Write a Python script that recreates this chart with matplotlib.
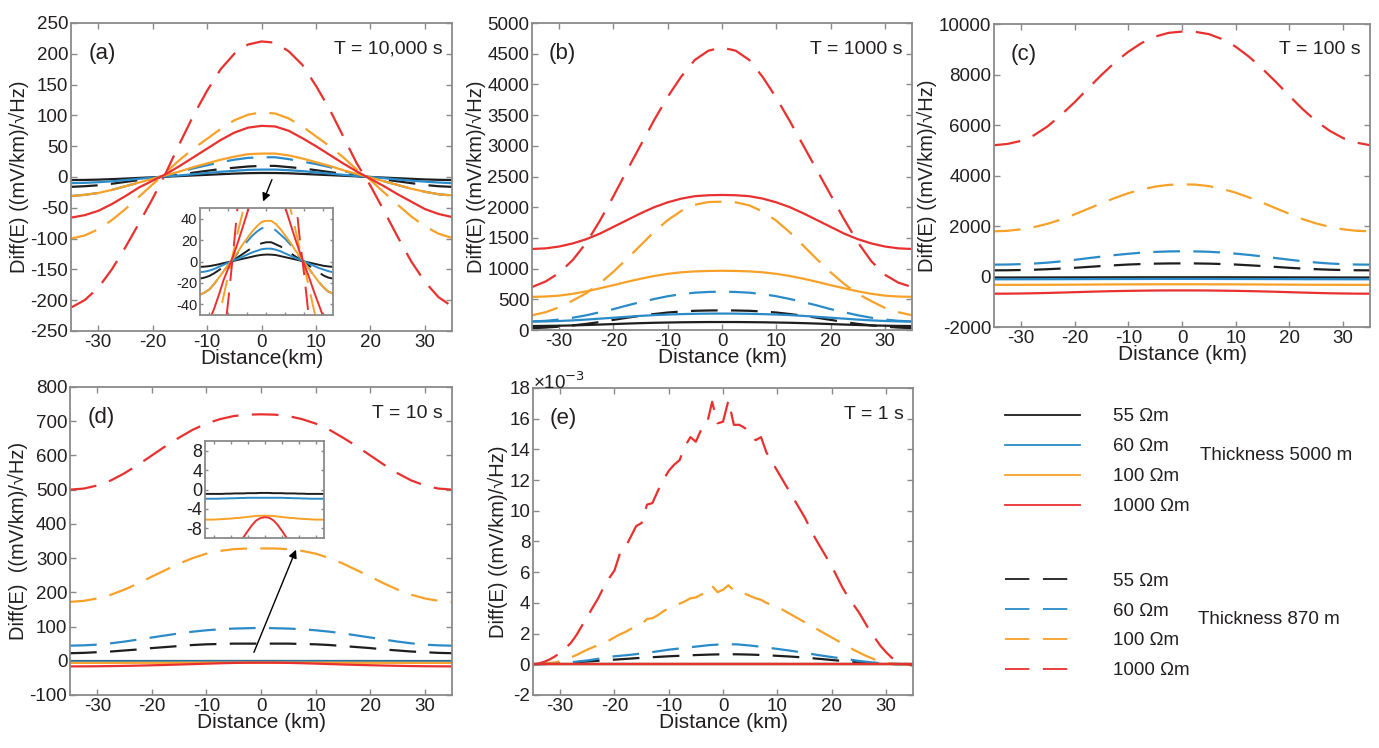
import numpy as np
import matplotlib
matplotlib.use('Agg')
import matplotlib.pyplot as plt
from matplotlib.lines import Line2D

plt.rcParams['font.family'] = ['Liberation Sans', 'DejaVu Sans']
plt.rcParams['axes.unicode_minus'] = False

# ---------------- data ----------------
x = np.arange(-35, 35.01, 2.5)          # distance grid (km), 29 points
xe_fine = np.arange(-35, 35.01, 1.0)    # finer grid for panel (e) noisy curves

resist_labels = ['55 Ωm', '60 Ωm', '100 Ωm', '1000 Ωm']
colors = ['#1e1e1e', '#2a8bc8', '#f7a128', '#e8312e']

# Panel (a) T = 10,000 s
a_solid_55 = [-5, -4.8, -4.3, -3.5, -2.6, -1.5, -0.5, 0.5, 1.5, 2.5, 3.5, 4.5, 5.5, 6.2, 6.5,
              6.4, 6, 5, 4, 3, 2, 1, 0, -1, -2, -3, -4, -4.6, -5]
a_solid_60 = [-10, -9.5, -8.5, -7, -5, -3, -1, 1, 2.5, 4.5, 6.5, 8.5, 10, 11.5, 12,
              12, 11, 9.5, 7.5, 5.5, 3.5, 1.5, 0, -2, -4, -6, -7.5, -9, -10]
a_solid_100 = [-31, -29, -26, -21, -15, -9, -3, 3, 9, 16, 22, 28, 33, 37, 38,
               38, 35, 30, 24, 18, 11, 5, -1, -7, -13, -19, -24, -28, -30]
a_solid_1000 = [-66, -62, -55, -44, -31, -17, -6, 5, 18, 32, 46, 60, 72, 80, 83,
                82, 75, 63, 50, 36, 22, 9, -3, -15, -28, -40, -52, -60, -65]
a_dash_55 = [-16, -15, -13.5, -11, -8, -5, -1.5, 1, 4, 7, 10, 13, 15, 17, 18,
             18, 16, 14, 11, 8, 5, 2, -1, -4, -7, -10, -13, -15, -16]
a_dash_60 = [-31, -29, -26, -21, -15, -9, -3, 2, 8, 14, 19, 24, 28, 31, 32,
             32, 29, 25, 21, 16, 10, 4, -1, -7, -13, -19, -24, -28, -30]
a_dash_100 = [-100, -95, -85, -70, -52, -32, -12, 8, 28, 46, 62, 78, 92, 101, 105,
              103, 95, 82, 66, 50, 32, 12, -5, -25, -45, -64, -80, -92, -99]
a_dash_1000 = [-212, -200, -180, -150, -114, -75, -35, 8, 55, 100, 140, 175, 200, 215, 220,
               218, 204, 182, 148, 110, 66, 22, -14, -55, -97, -137, -170, -195, -210]

# Panel (b) T = 1000 s
b_solid_55 = [65, 67, 70, 75, 82, 89, 97, 105, 112, 118, 122, 126, 128, 130, 130,
              130, 128, 126, 122, 118, 112, 105, 97, 89, 82, 75, 70, 67, 65]
b_solid_60 = [137, 140, 147, 157, 170, 185, 200, 215, 230, 243, 252, 259, 264, 267, 268,
              267, 264, 259, 252, 243, 230, 215, 200, 185, 170, 157, 147, 140, 137]
b_solid_100 = [540, 545, 560, 590, 630, 680, 730, 785, 835, 880, 915, 940, 955, 962, 965,
               962, 955, 940, 915, 880, 835, 785, 730, 680, 630, 590, 560, 545, 540]
b_solid_1000 = [1320, 1330, 1360, 1410, 1480, 1570, 1680, 1790, 1900, 2000, 2080, 2140, 2180, 2195, 2200,
                2195, 2180, 2140, 2080, 2000, 1900, 1790, 1680, 1570, 1480, 1410, 1360, 1330, 1320]
b_dash_55 = [30, 40, 55, 75, 100, 130, 165, 200, 232, 260, 285, 302, 313, 318, 320,
             318, 313, 302, 285, 260, 232, 200, 165, 130, 100, 75, 55, 40, 30]
b_dash_60 = [140, 150, 170, 200, 240, 290, 340, 400, 455, 505, 550, 585, 608, 620, 625,
             620, 608, 585, 550, 505, 455, 400, 340, 290, 240, 200, 170, 150, 140]
b_dash_100 = [240, 290, 370, 480, 600, 760, 950, 1160, 1380, 1600, 1790, 1940, 2040, 2085, 2090,
              2080, 2030, 1930, 1780, 1590, 1370, 1150, 940, 750, 590, 470, 360, 290, 240]
b_dash_1000 = [700, 790, 930, 1140, 1420, 1780, 2180, 2600, 3010, 3420, 3800, 4130, 4400, 4550, 4600,
               4550, 4400, 4120, 3780, 3400, 3000, 2600, 2200, 1800, 1430, 1120, 900, 770, 700]

# Panel (c) T = 100 s
c_solid_55 = [-40, -40, -39, -38, -37, -36, -35, -34, -33, -32, -31, -30, -30, -30, -30,
              -30, -30, -30, -31, -32, -33, -34, -35, -36, -37, -38, -39, -40, -40]
c_solid_60 = [-110, -110, -109, -108, -107, -106, -104, -102, -100, -99, -98, -97, -96, -96, -95,
              -96, -96, -97, -98, -99, -100, -102, -104, -106, -107, -108, -109, -110, -110]
c_solid_100 = [-330, -330, -329, -328, -327, -325, -322, -319, -316, -313, -311, -309, -308, -307, -307,
               -307, -308, -309, -311, -313, -316, -319, -322, -325, -327, -328, -329, -330, -330]
c_solid_1000 = [-680, -678, -672, -663, -650, -636, -620, -604, -590, -578, -568, -560, -554, -551, -550,
                -551, -554, -560, -568, -578, -590, -604, -620, -636, -650, -663, -672, -678, -680]
c_dash_55 = [245, 248, 257, 270, 290, 315, 345, 380, 415, 445, 475, 495, 510, 518, 520,
             518, 510, 495, 475, 445, 415, 380, 345, 315, 290, 270, 257, 248, 245]
c_dash_60 = [470, 475, 490, 515, 550, 600, 660, 725, 790, 850, 900, 945, 975, 993, 1000,
             995, 980, 950, 905, 855, 795, 730, 665, 605, 555, 515, 490, 475, 470]
c_dash_100 = [1790, 1810, 1870, 1960, 2090, 2260, 2460, 2680, 2900, 3110, 3300, 3450, 3560, 3630, 3650,
              3640, 3580, 3470, 3320, 3130, 2920, 2700, 2480, 2270, 2100, 1970, 1870, 1810, 1790]
c_dash_1000 = [5200, 5250, 5370, 5600, 5950, 6400, 6900, 7450, 7980, 8480, 8900, 9250, 9500, 9650, 9700,
               9690, 9600, 9400, 9100, 8700, 8220, 7700, 7150, 6620, 6150, 5770, 5480, 5300, 5200]

# Panel (d) T = 10 s
d_solid_55 = [-0.9, -0.9, -0.9, -0.9, -0.9, -0.85, -0.85, -0.8, -0.8, -0.8, -0.75, -0.75, -0.75, -0.7, -0.7,
              -0.7, -0.75, -0.75, -0.75, -0.8, -0.8, -0.8, -0.85, -0.85, -0.9, -0.9, -0.9, -0.9, -0.9]
d_solid_60 = [-1.9, -1.9, -1.9, -1.9, -1.85, -1.85, -1.8, -1.8, -1.75, -1.75, -1.7, -1.7, -1.7, -1.7, -1.7,
              -1.7, -1.7, -1.7, -1.7, -1.75, -1.75, -1.8, -1.8, -1.85, -1.85, -1.9, -1.9, -1.9, -1.9]
d_solid_100 = [-6.2, -6.2, -6.2, -6.15, -6.1, -6.05, -6.0, -5.9, -5.85, -5.75, -5.65, -5.55, -5.45, -5.4, -5.4,
               -5.4, -5.45, -5.55, -5.65, -5.75, -5.85, -5.9, -6.0, -6.05, -6.1, -6.15, -6.2, -6.2, -6.2]
d_solid_1000 = [-16.5, -16.4, -16.1, -15.6, -15, -14.2, -13.3, -12.3, -11.1, -9.9, -8.6, -7.4, -6.4, -5.9, -5.7,
                -5.8, -6.3, -7.2, -8.4, -9.7, -10.9, -12.1, -13.1, -14.0, -14.8, -15.5, -16.0, -16.3, -16.5]
d_dash_55 = [22, 23, 25, 27, 30, 33, 37, 40, 43, 46, 48, 49, 50, 50, 50,
             50, 50, 49, 48, 46, 43, 40, 37, 33, 30, 27, 25, 23, 22]
d_dash_60 = [44, 45, 47, 51, 56, 62, 68, 74, 80, 85, 89, 92, 94, 95, 96,
             95, 94, 92, 89, 85, 80, 74, 68, 62, 56, 51, 47, 45, 44]
d_dash_100 = [172, 175, 182, 193, 208, 226, 246, 265, 284, 300, 313, 321, 326, 328, 328,
              328, 326, 321, 313, 300, 284, 265, 246, 226, 208, 193, 182, 175, 172]
d_dash_1000 = [500, 503, 512, 527, 548, 573, 600, 627, 652, 675, 693, 706, 715, 719, 720,
               719, 715, 706, 693, 675, 652, 627, 600, 573, 548, 527, 512, 503, 500]

# Panel (e) T = 1 s  (values in units of 10^-3)
e_solid_55 = [0.0] * 29
e_solid_60 = [0.0] * 29
e_solid_100 = [0.0] * 29
e_solid_1000 = [0.0] * 29
e_dash_55 = [0, 0.02, 0.06, 0.12, 0.18, 0.24, 0.3, 0.36, 0.42, 0.47, 0.52, 0.56, 0.6, 0.63, 0.65,
             0.65, 0.63, 0.6, 0.55, 0.5, 0.44, 0.36, 0.28, 0.2, 0.12, 0.06, 0.02, 0.0, 0.0]
e_dash_60 = [0, 0.02, 0.08, 0.15, 0.25, 0.38, 0.52, 0.6, 0.7, 0.82, 0.95, 1.05, 1.15, 1.25, 1.3,
             1.3, 1.22, 1.12, 1.0, 0.88, 0.75, 0.6, 0.47, 0.35, 0.22, 0.12, 0.05, 0.02, 0.0]
e_dash_100 = [0.0, 0.02, 0.05, 0.08, 0.12, 0.2, 0.32, 0.45, 0.6, 0.78, 0.95, 1.1, 1.25, 1.4, 1.55,
              1.75, 1.95, 2.1, 2.3, 2.45, 2.6, 2.95, 3.0, 3.2, 3.45, 3.65, 3.8, 3.95, 4.1, 4.3,
              4.35, 4.55, 4.6, 5.1, 4.7, 4.85, 5.15, 4.8, 4.75, 4.6, 4.45, 4.3, 4.2, 4.0, 3.85,
              3.75, 3.55, 3.35, 3.15, 2.95, 2.75, 2.55, 2.35, 2.15, 1.95, 1.75, 1.55, 1.35, 1.15,
              0.95, 0.78, 0.6, 0.45, 0.3, 0.18, 0.1, 0.05, 0.02, 0.0, -0.02, -0.05]
e_dash_1000 = [0.0, 0.05, 0.15, 0.3, 0.5, 0.75, 1.05, 1.4, 1.9, 2.5, 3.1, 3.7, 4.3, 5.0, 5.6,
               6.1, 7.2, 7.6, 8.3, 9.0, 9.2, 10.4, 10.5, 11.3, 12.0, 12.6, 13.0, 13.3, 14.2, 14.8,
               14.5, 15.3, 15.6, 17.1, 15.7, 15.8, 17.2, 15.6, 15.6, 15.4, 15.0, 14.6, 14.8, 13.8, 13.2,
               12.6, 12.0, 11.4, 10.8, 10.2, 9.6, 8.9, 8.2, 7.6, 7.0, 6.4, 5.7, 5.0, 4.4,
               3.9, 3.4, 2.8, 2.2, 1.7, 1.2, 0.8, 0.45, 0.2, 0.08, 0.0, -0.1]

panels = [
    dict(tag='(a)', period='T = 10,000 s', ylim=(-250, 250), yticks=np.arange(-250, 251, 50),
         xlabel='Distance(km)', ylabel='Diff(E) ((mV/km)/√Hz)',
         solid=[a_solid_55, a_solid_60, a_solid_100, a_solid_1000],
         dash=[a_dash_55, a_dash_60, a_dash_100, a_dash_1000],
         rect=[0.0515, 0.5575, 0.2763, 0.4118]),
    dict(tag='(b)', period='T = 1000 s', ylim=(0, 5000), yticks=np.arange(0, 5001, 500),
         xlabel='Distance (km)', ylabel='Diff(E) ((mV/km)/√Hz)',
         solid=[b_solid_55, b_solid_60, b_solid_100, b_solid_1000],
         dash=[b_dash_55, b_dash_60, b_dash_100, b_dash_1000],
         rect=[0.3858, 0.5588, 0.2756, 0.4104]),
    dict(tag='(c)', period='T = 100 s', ylim=(-2000, 10000), yticks=np.arange(-2000, 10001, 2000),
         xlabel='Distance (km)', ylabel='Diff(E) ((mV/km)/√Hz)',
         solid=[c_solid_55, c_solid_60, c_solid_100, c_solid_1000],
         dash=[c_dash_55, c_dash_60, c_dash_100, c_dash_1000],
         rect=[0.7208, 0.5628, 0.2727, 0.4051]),
    dict(tag='(d)', period='T = 10 s', ylim=(-100, 800), yticks=np.arange(-100, 801, 100),
         xlabel='Distance (km)', ylabel='Diff(E)  ((mV/km)/√Hz)',
         solid=[d_solid_55, d_solid_60, d_solid_100, d_solid_1000],
         dash=[d_dash_55, d_dash_60, d_dash_100, d_dash_1000],
         rect=[0.0508, 0.0709, 0.2770, 0.4118]),
    dict(tag='(e)', period='T = 1 s', ylim=(-2, 18), yticks=np.arange(-2, 18.1, 2),
         xlabel='Distance (km)', ylabel='Diff(E) ((mV/km)/√Hz)',
         solid=[e_solid_55, e_solid_60, e_solid_100, e_solid_1000],
         dash=[e_dash_55, e_dash_60, e_dash_100, e_dash_1000],
         rect=[0.3865, 0.0709, 0.2756, 0.4104]),
]

SPINE = '#8a8a8a'
TXT = '#231f20'
DASH = (12, 6)
LW = 1.6

fig = plt.figure(figsize=(13.79, 7.48), dpi=100)


def style_axes(ax, tick_size=13.5, length=4):
    for s in ax.spines.values():
        s.set_color(SPINE)
        s.set_linewidth(1.3)
    ax.tick_params(direction='in', top=True, right=True, length=length, width=1.0,
                   color=SPINE, labelcolor=TXT, labelsize=tick_size, pad=2)


def draw_series(ax, p, xs_dash_list, lw=LW):
    for i in range(4):
        ax.plot(xs_dash_list[i], p['dash'][i], color=colors[i], lw=lw, dashes=DASH)
    for i in range(4):
        ax.plot(x, p['solid'][i], color=colors[i], lw=lw)


axes = []
for p in panels:
    ax = fig.add_axes(p['rect'])
    axes.append(ax)
    xs_list = [x, x, xe_fine, xe_fine] if p['tag'] == '(e)' else [x, x, x, x]
    draw_series(ax, p, xs_list)
    ax.set_xlim(-35, 35)
    ax.set_ylim(*p['ylim'])
    ax.set_xticks([-30, -20, -10, 0, 10, 20, 30])
    ax.set_yticks(p['yticks'])
    ax.set_yticklabels([f'{v:g}' for v in p['yticks']])
    style_axes(ax)
    ax.set_xlabel(p['xlabel'], fontsize=15, color=TXT, labelpad=-1)
    ax.set_ylabel(p['ylabel'], fontsize=14.5, color=TXT, labelpad=1)
    ax.text(0.045, 0.9, p['tag'], transform=ax.transAxes, fontsize=16, color=TXT,
            ha='left', va='center')
    ax.text(0.975, 0.915, p['period'], transform=ax.transAxes, fontsize=14, color=TXT,
            ha='right', va='center')

# exponent label in panel (e)
axes[4].text(0.0, 1.02, '×10$^{-3}$', transform=axes[4].transAxes, fontsize=13.5,
             color=TXT, ha='left', va='center')

# inset in (a)
ins_a = fig.add_axes([0.1450, 0.5789, 0.0964, 0.1430])
draw_series(ins_a, panels[0], [x, x, x, x], lw=1.4)
ins_a.set_xlim(-35, 35)
ins_a.set_ylim(-50, 50)
ins_a.set_xticks([-30, -20, -10, 0, 10, 20, 30])
ins_a.set_xticklabels([])
ins_a.set_yticks([-40, -20, 0, 20, 40])
style_axes(ins_a, tick_size=10.5, length=2.5)

# inset in (d)
ins_d = fig.add_axes([0.1487, 0.2807, 0.0863, 0.1297])
draw_series(ins_d, panels[3], [x, x, x, x], lw=1.4)
ins_d.set_xlim(-35, 35)
ins_d.set_ylim(-10, 10)
ins_d.set_xticks([-30, -20, -10, 0, 10, 20, 30])
ins_d.set_xticklabels([])
ins_d.set_yticks([-8, -4, 0, 4, 8])
style_axes(ins_d, tick_size=13, length=2.5)

# arrows
axes[0].annotate('', xy=(0.1, -44), xytext=(2.1, 0),
                 arrowprops=dict(arrowstyle='-|>', color='black', lw=1.0, mutation_scale=12))
axes[3].annotate('', xy=(6.6, 332), xytext=(-1.5, 17),
                 arrowprops=dict(arrowstyle='-|>', color='black', lw=1.0, mutation_scale=12))

# legends
solid_handles = [Line2D([0], [0], color=c, lw=1.3) for c in colors]
dash_handles = [Line2D([0], [0], color=c, lw=1.3, dashes=(13.5, 7.5)) for c in colors]
leg_kw = dict(loc='upper left', frameon=False, handlelength=4.0, handletextpad=1.75,
              labelspacing=0.68, fontsize=13.5, borderpad=0, borderaxespad=0)
leg1 = fig.legend(solid_handles, resist_labels, bbox_to_anchor=(0.7288, 0.4541), **leg_kw)
leg2 = fig.legend(dash_handles, resist_labels, bbox_to_anchor=(0.7288, 0.2345), **leg_kw)
for leg in (leg1, leg2):
    for t in leg.get_texts():
        t.set_color(TXT)
fig.text(1200 / 1379, 1 - 456 / 748, 'Thickness 5000 m', fontsize=13.5, color=TXT,
         ha='left', va='center')
fig.text(1198 / 1379, 1 - 620 / 748, 'Thickness 870 m', fontsize=13.5, color=TXT,
         ha='left', va='center')

fig.savefig('out.png', dpi=100)
